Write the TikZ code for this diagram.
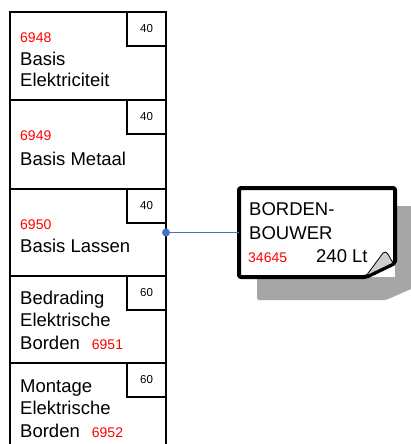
\documentclass[tikz,border=0pt]{standalone}
\usepackage{fontspec}
\setmainfont{Liberation Sans}
\definecolor{numred}{RGB}{255,0,0}
\definecolor{linkblue}{RGB}{68,114,196}
\definecolor{shadowgray}{RGB}{166,166,166}
\definecolor{foldgray}{RGB}{205,205,205}
\begin{document}
\begin{tikzpicture}[x=1pt,y=-1pt,
  bigbox/.style={draw=black,line width=1.4pt,minimum width=156pt,inner sep=0pt,outer sep=0pt,anchor=north west},
  hrsbox/.style={draw=black,line width=1.4pt,minimum width=39pt,minimum height=34pt,inner sep=0pt,outer sep=0pt,anchor=north east,font=\fontsize{11.5}{13}\selectfont},
  maintxt/.style={inner sep=0pt,anchor=base west,font=\fontsize{18.5}{22}\selectfont},
  numtxt/.style={inner sep=0pt,anchor=base west,text=numred,font=\fontsize{14}{16}\selectfont}]
\useasboundingbox (0,0) rectangle (411,444);
% left column boxes
\node[bigbox,minimum height=88pt] (b1) at (10,12) {};
\node[bigbox,minimum height=89pt] (b2) at (10,100) {};
\node[bigbox,minimum height=87pt] (b3) at (10,189) {};
\node[bigbox,minimum height=87pt] (b4) at (10,276) {};
\node[bigbox,minimum height=89pt] (b5) at (10,363) {};
% hour boxes
\node[hrsbox] (h1) at (b1.north east) {40};
\node[hrsbox] (h2) at (b2.north east) {40};
\node[hrsbox] (h3) at (b3.north east) {40};
\node[hrsbox] (h4) at (b4.north east) {60};
\node[hrsbox] (h5) at (b5.north east) {60};
% texts box 1
\node[numtxt] (n1) at (20,42.7) {6948};
\node[maintxt] (t1a) at (20,65) {Basis};
\node[maintxt] (t1b) at (20,86.7) {Elektriciteit};
% box 2
\node[numtxt] (n2) at (20,140) {6949};
\node[maintxt] (t2a) at (20,165) {Basis Metaal};
% box 3
\node[numtxt] (n3) at (20,229) {6950};
\node[maintxt] (t3a) at (20,252) {Basis Lassen};
% box 4
\node[maintxt] (t4a) at (20,304) {Bedrading};
\node[maintxt] (t4b) at (20,326.7) {Elektrische};
\node[maintxt] (t4c) at (20,349) {Borden};
\node[numtxt] (n4) at (91.7,349) {6951};
% box 5
\node[maintxt] (t5a) at (20,392.7) {Montage};
\node[maintxt] (t5b) at (20,414.3) {Elektrische};
\node[maintxt] (t5c) at (20,437.3) {Borden};
\node[numtxt] (n5) at (91.7,437.3) {6952};
% resource note: shadow
\fill[shadowgray,rounded corners=1.5pt] (257,206) -- (418,206) -- (418,286) -- (386,300) -- (257,300) -- cycle;
% note body
\node[fill=white,inner sep=0pt,outer sep=0pt,minimum width=156pt,minimum height=89pt] (res) at (317,232.5) {};
\fill[white] (239,188) -- (395,188) -- (395,263) -- (366,277) -- (239,277) -- cycle;
\draw[line width=4pt,line join=round,rounded corners=2pt] (239,188) -- (395,188) -- (395,263) -- (366,277) -- (239,277) -- cycle;
% curled corner
\draw[fill=foldgray,line width=0.8pt,line join=round] (366,276) -- (383,253) .. controls (387,249) and (389,257) .. (393,263) -- cycle;
% note texts
\node[maintxt] (r1) at (249,215.5) {BORDEN-};
\node[maintxt] (r2) at (249,239) {BOUWER};
\node[numtxt] (r3) at (248,262) {34645};
\node[maintxt] (r4) at (316,262) {240 Lt};
% connector
\draw[linkblue,line width=0.9pt] (b3.east) -- (b3.east -| res.west);
\fill[linkblue] (b3.east) circle (4pt);
\end{tikzpicture}
\end{document}
